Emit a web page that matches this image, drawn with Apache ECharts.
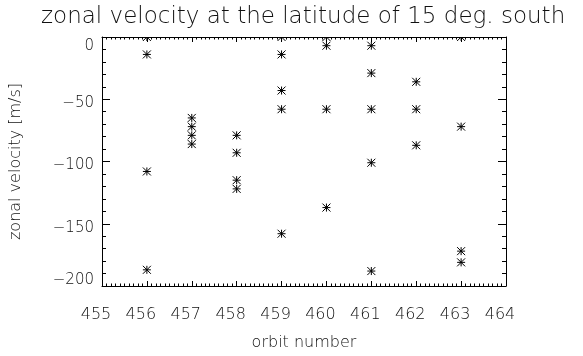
<!DOCTYPE html>
<html>
<head>
<meta charset="utf-8">
<script src="https://cdn.jsdelivr.net/npm/echarts@6/dist/echarts.min.js"></script>
<style>
  html, body { margin: 0; padding: 0; background: #fff; }
  #chart { width: 583px; height: 356px; }
</style>
</head>
<body>
<div id="chart"></div>
<script type="text/javascript">
	// data
	var orbitNumber = [456, 456, 456, 456,
		457, 457, 457, 457,
		458, 458, 458, 458,
		459, 459, 459, 459, 459,
		460, 460, 460, 460,
		461, 461, 461, 461, 461,
		462, 462, 462,
		463, 463, 463, 463];
	var zonalVelocity = [0, -14, -108, -187,
		-65, -72, -79, -86,
		-79, -93, -115, -122,
		0, -14, -43, -58, -158,
		0, -7, -58, -137,
		-7, -29, -58, -101, -188,
		-36, -58, -87,
		0, -72, -172, -181];
	var xTicks = [455, 464, 1];
	var yTicks = [-200, 0, 50];

	var font = 'DejaVu Sans';
	var textColor = '#111';

	var points = orbitNumber.map(function (o, i) { return [o, zonalVelocity[i]]; });

	// IDL style asterisk (psym=2)
	function renderStar(params, api) {
		var p = api.coord([api.value(0), api.value(1)]);
		var r = 4;
		var st = { stroke: '#000', lineWidth: 1 };
		return {
			type: 'group',
			children: [
				{ type: 'line', shape: { x1: p[0], y1: p[1] - r, x2: p[0], y2: p[1] + r }, style: st },
				{ type: 'line', shape: { x1: p[0] - r, y1: p[1], x2: p[0] + r, y2: p[1] }, style: st },
				{ type: 'line', shape: { x1: p[0] - r, y1: p[1] - r, x2: p[0] + r, y2: p[1] + r }, style: st },
				{ type: 'line', shape: { x1: p[0] - r, y1: p[1] + r, x2: p[0] + r, y2: p[1] - r }, style: st }
			]
		};
	}

	var line = { show: true, onZero: false, lineStyle: { color: '#000', width: 1 } };

	function xAx(pos, labels) {
		return {
			type: 'value', position: pos,
			min: xTicks[0], max: xTicks[1], interval: xTicks[2],
			axisLine: line,
			axisTick: { show: true, inside: true, length: 5, lineStyle: { color: '#000' } },
			minorTick: { show: true, splitNumber: 10, length: 2.5, lineStyle: { color: '#000' } },
			splitLine: { show: false },
			axisLabel: {
				show: labels, margin: 21, fontSize: 16, fontFamily: font, fontWeight: 'lighter',
				color: textColor, padding: [0, 12, 0, 0]
			},
			name: labels ? 'orbit number' : '',
			nameLocation: 'middle', nameGap: 49,
			nameTextStyle: { fontSize: 16, fontFamily: font, fontWeight: 'lighter', color: textColor }
		};
	}

	function yAx(pos, labels) {
		return {
			type: 'value', position: pos,
			min: yTicks[0], max: yTicks[1], interval: yTicks[2],
			axisLine: line,
			axisTick: { show: true, inside: true, length: 8, lineStyle: { color: '#000' } },
			minorTick: { show: true, splitNumber: 5, length: 4, lineStyle: { color: '#000' } },
			splitLine: { show: false },
			axisLabel: {
				show: labels, margin: 8, fontSize: 15, fontFamily: font, fontWeight: 'lighter',
				color: textColor,
				formatter: function (v) {
					var s = String(v).replace('-', '\u2212');
					if (v === yTicks[1]) return '{top|' + s + '}';
					if (v === yTicks[0]) return '{bot|' + s + '}';
					return '{mid|' + s + '}';
				},
				rich: {
					top: { padding: [19, 0, 0, 0], fontSize: 15, fontFamily: font, fontWeight: 'lighter', color: textColor },
					mid: { padding: [8, 0, 0, 0], fontSize: 15, fontFamily: font, fontWeight: 'lighter', color: textColor },
					bot: { padding: [0, 0, 12, 0], fontSize: 15, fontFamily: font, fontWeight: 'lighter', color: textColor }
				}
			},
			name: labels ? 'zonal velocity [m/s]' : '',
			nameLocation: 'middle', nameGap: 78, nameRotate: 90,
			nameTextStyle: { fontSize: 16, fontFamily: font, fontWeight: 'lighter', color: textColor }
		};
	}

	var chart = echarts.init(document.getElementById('chart'), null, { renderer: 'canvas' });
	var option = {
		backgroundColor: '#fff',
		animation: false,
		title: {
			text: 'zonal velocity at the latitude of 15 deg. south',
			left: 36, top: 1,
			textStyle: { fontSize: 23, fontFamily: font, fontWeight: 'lighter', color: textColor }
		},
		grid: { left: 100, right: 77, top: 37, bottom: 70 },
		xAxis: [xAx('bottom', true), xAx('top', false)],
		yAxis: [yAx('left', true), yAx('right', false)],
		series: [{
			name: 'zonal velocity',
			type: 'custom',
			xAxisIndex: 0, yAxisIndex: 0,
			clip: true,
			renderItem: renderStar,
			data: points
		}]
	};
	chart.setOption(option);
</script>
</body>
</html>
